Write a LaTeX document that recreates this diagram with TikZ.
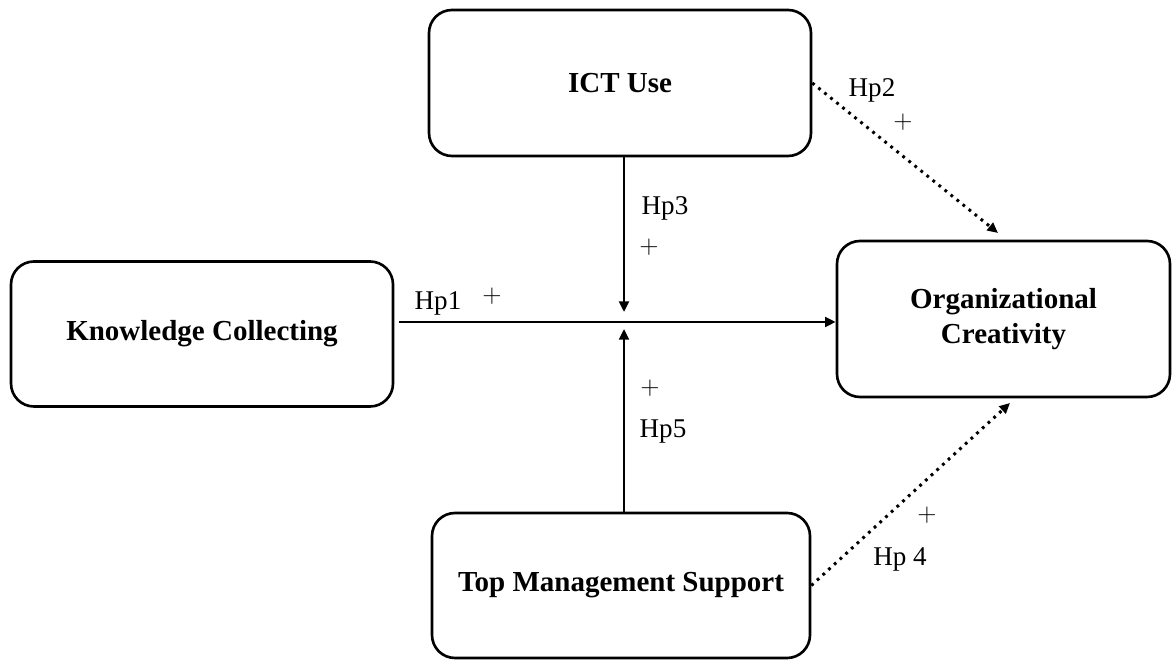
\documentclass[tikz,border=0pt]{standalone}
\usepackage{fontspec}
\setmainfont{Liberation Serif}
\usepackage{tikz}
\usetikzlibrary{positioning,arrows.meta}

\begin{document}
\begin{tikzpicture}[
    box/.style={rectangle, rounded corners=0.46cm, draw, line width=1.5pt, align=center,
        font=\fontsize{16.5}{20}\selectfont\bfseries},
    arrow/.style={-{Triangle[length=6pt,width=5.5pt]}, line width=1.6pt},
    dotarrow/.style={-{Triangle[length=6pt,width=5.5pt]}, line width=1.7pt,
        dash pattern=on 1.6pt off 2.8pt},
    hyp/.style={font=\fontsize{15.4}{18}\selectfont, inner sep=0pt}
]
\useasboundingbox (0,0) rectangle (23.44,13.22);

% Nodes
\node[box, minimum width=7.64cm, minimum height=2.92cm] (ict) at (12.40,11.56) {ICT Use};
\node[box, minimum width=7.64cm, minimum height=2.90cm] (know) at (4.04,6.54) {Knowledge Collecting};
\node[box, minimum width=6.66cm, minimum height=3.12cm] (org) at (20.07,6.84) {Organizational\\Creativity};
\node[box, minimum width=7.56cm, minimum height=2.90cm] (tms) at (12.42,1.51) {Top Management Support};

% Meeting points
\coordinate (hub) at (12.48,6.78);
\coordinate (hubtop) at (12.48,6.98);
\coordinate (hubbot) at (12.48,6.64);
\coordinate (ictend) at (19.96,8.56);
\coordinate (tmsend) at (20.20,5.16);

% Arrows
\draw[arrow] ([xshift=0.1cm]know.east |- hub) -- (org.west |- hub);
\draw[arrow] (ict.south -| hub) -- (hubtop);
\draw[arrow] (tms.north -| hub) -- (hubbot);
\draw[dotarrow] (ict.east) -- (ictend);
\draw[dotarrow] (tms.east) -- (tmsend);

% Labels
\node[hyp] (hp1) at (8.76,7.16) {Hp1};
\node[hyp] (hp1s) at (9.84,7.30) {$+$};
\node[hyp] (hp3) at (13.30,9.06) {Hp3};
\node[hyp] (hp3s) at (12.98,8.28) {$+$};
\node[hyp] (hp5) at (13.26,4.58) {Hp5};
\node[hyp] (hp5s) at (13.00,5.46) {$+$};
\node[hyp] (hp2) at (17.44,11.42) {Hp2};
\node[hyp] (hp2s) at (18.06,10.78) {$+$};
\node[hyp] (hp4) at (18.00,2.04) {Hp 4};
\node[hyp] (hp4s) at (18.54,2.92) {$+$};

\end{tikzpicture}
\end{document}
